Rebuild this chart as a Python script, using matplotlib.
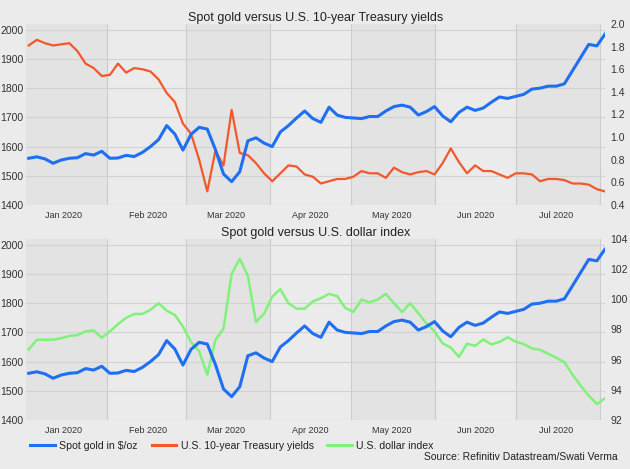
import pandas as pd
import matplotlib
matplotlib.use('Agg')
import matplotlib.pyplot as plt
import matplotlib.dates as mdates
from matplotlib.lines import Line2D

plt.rcParams['font.family'] = ['Liberation Sans', 'DejaVu Sans']

# one reading every 3 days, 3 Jan 2020 -> 3 Aug 2020
dates = pd.date_range('2020-01-03', '2020-08-03', freq='3D')

gold = [1560, 1565, 1558, 1543, 1554, 1560, 1562, 1576, 1571, 1584,
        1560, 1561, 1570, 1566, 1580, 1600, 1624, 1672, 1643, 1588,
        1642, 1666, 1660, 1590, 1506, 1480, 1514, 1620, 1630, 1612,
        1600, 1650, 1672, 1698, 1722, 1696, 1683, 1735, 1708, 1700,
        1698, 1696, 1703, 1703, 1722, 1737, 1742, 1735, 1708, 1720,
        1737, 1705, 1685, 1717, 1735, 1724, 1732, 1752, 1770, 1765,
        1772, 1779, 1797, 1800, 1807, 1807, 1815, 1860, 1905, 1950, 1945, 1985]

yields = [1.81, 1.86, 1.83, 1.81, 1.82, 1.83, 1.76, 1.65, 1.61, 1.54,
          1.55, 1.65, 1.57, 1.61, 1.60, 1.58, 1.51, 1.39, 1.31, 1.12,
          1.03, 0.80, 0.52, 0.88, 0.75, 1.24, 0.86, 0.84, 0.77, 0.68,
          0.61, 0.68, 0.75, 0.74, 0.67, 0.65, 0.59, 0.61, 0.63, 0.63,
          0.65, 0.70, 0.68, 0.68, 0.64, 0.73, 0.69, 0.67, 0.69, 0.70,
          0.67, 0.77, 0.90, 0.78, 0.68, 0.75, 0.70, 0.70, 0.67, 0.64,
          0.68, 0.68, 0.67, 0.61, 0.63, 0.63, 0.62, 0.59, 0.59, 0.58, 0.54, 0.52]

dollar = [96.67, 97.32, 97.32, 97.32, 97.42, 97.57, 97.63, 97.87, 97.94, 97.45,
          97.87, 98.35, 98.77, 99.03, 99.03, 99.30, 99.74, 99.24, 98.97, 98.19,
          97.17, 96.55, 95.00, 97.30, 98.06, 101.68, 102.69, 101.55, 98.50, 99.05,
          100.17, 100.67, 99.74, 99.38, 99.38, 99.86, 100.07, 100.36, 100.21, 99.43,
          99.16, 99.98, 99.80, 99.98, 100.36, 99.74, 99.16, 99.74, 99.08, 98.41,
          97.87, 97.07, 96.80, 96.18, 97.05, 96.92, 97.34, 97.01, 97.17, 97.48,
          97.19, 97.03, 96.74, 96.65, 96.39, 96.12, 95.83, 95.00, 94.28, 93.61, 93.06, 93.43]

gold_ticks = [1400, 1500, 1600, 1700, 1800, 1900, 2000]
yield_ticks = [0.4, 0.6, 0.8, 1.0, 1.2, 1.4, 1.6, 1.8, 2.0]
dollar_ticks = [92, 94, 96, 98, 100, 102, 104]
shaded_months = ['2020-01', '2020-03', '2020-05', '2020-07']

BG = '#ebebeb'
SHADE = '#e3e3e3'
BLUE = '#1f6ff2'
RED = '#f2582c'
GREEN = '#80f27a'
TXT = '#333333'

x0 = pd.Timestamp('2020-01-02')
x1 = pd.Timestamp('2020-08-03')

fig = plt.figure(figsize=(6.30, 4.69), dpi=100, facecolor=BG)


def panel(bottom, title, right_vals, right_ticks, right_lim, right_color, right_fmt, right_lw):
    ax = fig.add_axes([0.0413, bottom, 0.9190, 0.386])
    ax.set_facecolor(BG)
    for m in shaded_months:
        start = max(pd.Timestamp(m + '-01'), x0)
        end = min(pd.Timestamp(m + '-01') + pd.offsets.MonthBegin(1), x1)
        ax.axvspan(start, end, color=SHADE, zorder=0, lw=0)
    ax.set_xlim(x0, x1)
    ax.set_ylim(1400, 2020)
    ax.set_yticks(gold_ticks)
    ax.xaxis.set_major_locator(mdates.MonthLocator())
    ax.xaxis.set_minor_locator(mdates.MonthLocator(bymonthday=16))
    ax.xaxis.set_major_formatter(plt.NullFormatter())
    ax.xaxis.set_minor_formatter(mdates.DateFormatter('%b %Y'))
    ax.tick_params(axis='x', which='both', length=0, labelsize=6.5, colors=TXT, pad=4)
    ax.tick_params(axis='y', length=0, labelsize=7.5, colors=TXT, pad=2)
    ax.grid(axis='y', color='#d2d2d2', lw=0.8)
    ax.grid(axis='x', which='major', color='#cccccc', lw=0.8)
    for s in ax.spines.values():
        s.set_visible(False)

    ax2 = ax.twinx()
    ax2.set_ylim(*right_lim)
    ax2.set_yticks(right_ticks)
    ax2.set_yticklabels([right_fmt(v) for v in right_ticks])
    ax2.tick_params(axis='y', length=0, labelsize=7.5, colors=TXT, pad=4)
    for s in ax2.spines.values():
        s.set_visible(False)

    ax2.plot(dates, right_vals, color=right_color, lw=right_lw, zorder=2)
    # gold uses the left scale but is drawn on the top axes so it stays above
    ax2.plot(dates, gold, color=BLUE, lw=2.2, zorder=3, transform=ax.transData)
    ax.set_title(title, fontsize=9, color='#222222', pad=2)
    return ax, ax2


top_ax, top_ax2 = panel(0.5629, 'Spot gold versus U.S. 10-year Treasury yields',
                        yields, yield_ticks, (0.4, 2.0), RED,
                        lambda v: '%.1f' % v, 1.6)
bot_ax, bot_ax2 = panel(0.1045, 'Spot gold versus U.S. dollar index',
                        dollar, dollar_ticks, (92, 104), GREEN,
                        lambda v: '%d' % v, 1.8)

handles = [Line2D([], [], color=BLUE, lw=2.2),
           Line2D([], [], color=RED, lw=2.2),
           Line2D([], [], color=GREEN, lw=2.2)]
labels = ['Spot gold in $/oz', 'U.S. 10-year Treasury yields', 'U.S. dollar index']
fig.legend(handles, labels, loc='center left', bbox_to_anchor=(0.033, 0.049),
           ncol=3, frameon=False, fontsize=7.6, handlelength=2.3,
           columnspacing=1.3, handletextpad=0.45, labelcolor='#222222')

fig.text(0.981, 0.014, 'Source: Refinitiv Datastream/Swati Verma', ha='right',
         va='bottom', fontsize=7.5, color='#222222')

fig.savefig('out.png', dpi=100, facecolor=BG)
